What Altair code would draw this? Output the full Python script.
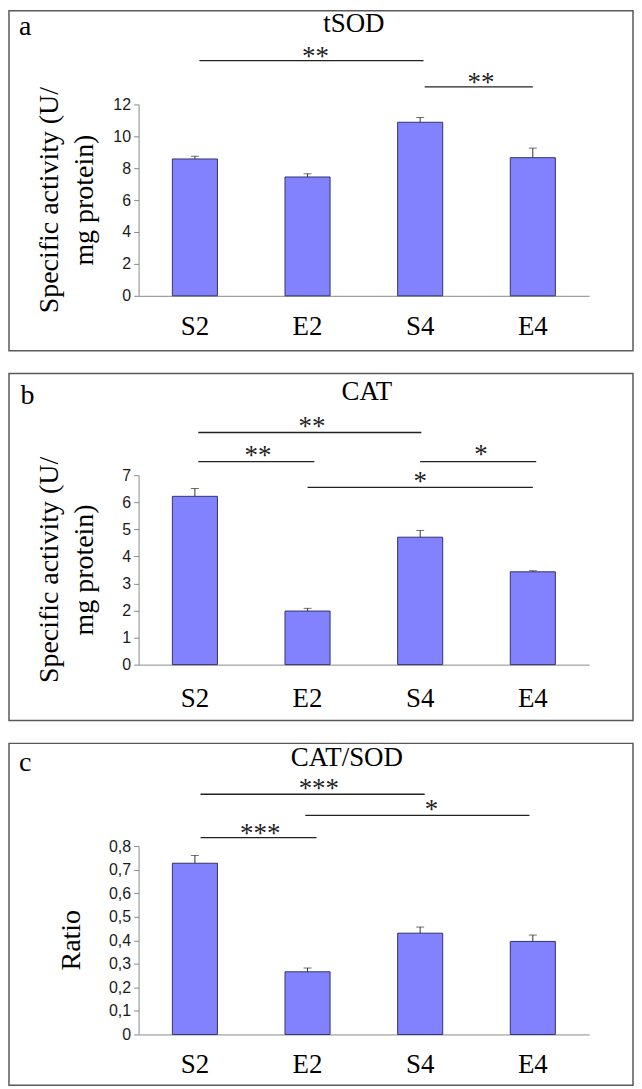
import altair as alt
import pandas as pd

groups = ["S2", "E2", "S4", "E4"]

sod_values = [8.58, 7.45, 10.88, 8.66]
sod_err = [0.17, 0.20, 0.30, 0.60]
cat_values = [6.22, 1.98, 4.71, 3.43]
cat_err = [0.29, 0.10, 0.25, 0.04]
ratio_values = [0.727, 0.266, 0.430, 0.395]
ratio_err = [0.033, 0.016, 0.026, 0.027]

# significance brackets (x in group units: 0.5 = centre of S2, 1.5 = E2, ...)
sod_sig_start = [0.54, 2.54]
sod_sig_end = [2.53, 3.50]
sod_sig_height = [14.75, 13.1]
sod_sig_label = ["**", "**"]
sod_sig_label_x = [1.57, 3.04]
sod_sig_label_y = [15.2, 13.6]

cat_sig_start = [0.53, 0.53, 2.50, 1.50]
cat_sig_end = [2.51, 1.56, 3.53, 3.50]
cat_sig_height = [8.58, 7.5, 7.5, 6.55]
cat_sig_label = ["**", "**", "*", "*"]
cat_sig_label_x = [1.54, 1.06, 3.04, 2.50]
cat_sig_label_y = [8.93, 7.86, 7.9, 6.88]

ratio_sig_start = [0.55, 1.48, 0.55]
ratio_sig_end = [2.54, 3.47, 1.58]
ratio_sig_height = [1.02, 0.93, 0.836]
ratio_sig_label = ["***", "*", "***"]
ratio_sig_label_x = [1.60, 2.60, 1.08]
ratio_sig_label_y = [1.058, 0.969, 0.87]

sod_ticks = [0, 2, 4, 6, 8, 10, 12]
cat_ticks = [0, 1, 2, 3, 4, 5, 6, 7]
ratio_ticks = [0, 0.1, 0.2, 0.3, 0.4, 0.5, 0.6, 0.7, 0.8]

SERIF = "Liberation Serif"
SANS = "Liberation Sans"
W = 452


def panel(letter, title, values, errs, ymax, yticks, ytitle, ytitle_x,
          sig_start, sig_end, sig_h, sig_lab, sig_lx, sig_ly,
          H, box_top, box_bottom, letter_xy, title_xy, label_pad, label_expr=None):
    df = pd.DataFrame({"group": groups, "value": values,
                       "top": [v + e for v, e in zip(values, errs)]})
    yscale = alt.Scale(domain=[0, ymax], nice=False, zero=True)
    xband = alt.Scale(paddingInner=0.6, paddingOuter=0.3)
    axis_kw = dict(values=yticks, title=None, grid=False,
                   domainColor="#8a8a8a", tickColor="#8a8a8a", tickSize=5,
                   labelFont=SANS, labelFontSize=16, labelColor="#1a1a1a",
                   labelPadding=3)
    if label_expr:
        axis_kw["labelExpr"] = label_expr
    yaxis = alt.Axis(**axis_kw)
    bars = alt.Chart(df).mark_bar(color="#8282ff", stroke="#33336b",
                                  strokeWidth=1).encode(
        x=alt.X("group:N", sort=groups, scale=xband,
                axis=alt.Axis(title=None, labelAngle=0, ticks=False, tickSize=0,
                              domainColor="#8a8a8a", labelFont=SERIF,
                              labelFontSize=27, labelColor="black",
                              labelBaseline="alphabetic", labelPadding=label_pad)),
        y=alt.Y("value:Q", scale=yscale, axis=yaxis),
    )
    err = alt.Chart(df).mark_rule(color="#333333", strokeWidth=1).encode(
        x=alt.X("group:N", sort=groups, scale=xband),
        y=alt.Y("value:Q", scale=yscale, axis=yaxis),
        y2="top:Q",
    )
    cap = alt.Chart(df).mark_tick(orient="horizontal", size=8, thickness=1,
                                  color="#333333").encode(
        x=alt.X("group:N", sort=groups, scale=xband),
        y=alt.Y("top:Q", scale=yscale, axis=yaxis),
    )

    one = pd.DataFrame({"t": [title], "l": [letter], "yt": [ytitle]})
    box = alt.Chart(one).mark_rect(fillOpacity=0, stroke="#5a5a5a",
                                   strokeWidth=1.5).encode(
        x=alt.value(-130), x2=alt.value(W + 44),
        y=alt.value(box_top), y2=alt.value(H + box_bottom))
    let = alt.Chart(one).mark_text(font=SERIF, fontSize=28, align="left",
                                   baseline="alphabetic", color="black").encode(
        x=alt.value(letter_xy[0]), y=alt.value(letter_xy[1]), text="l:N")
    ttl = alt.Chart(one).mark_text(font=SERIF, fontSize=27, align="center",
                                   baseline="alphabetic", color="black").encode(
        x=alt.value(title_xy[0]), y=alt.value(title_xy[1]), text="t:N")
    ytl = alt.Chart(one).mark_text(font=SERIF, fontSize=28, align="center",
                                   baseline="middle", angle=270, lineHeight=35,
                                   lineBreak="|", color="black").encode(
        x=alt.value(ytitle_x), y=alt.value(H / 2), text="yt:N")

    xq = alt.Scale(domain=[0, 4], nice=False, zero=False)
    sig = pd.DataFrame({"s": sig_start, "e": sig_end, "h": sig_h,
                        "lab": sig_lab, "lx": sig_lx, "ly": sig_ly})
    rules = alt.Chart(sig).mark_rule(color="#222222", strokeWidth=1.3).encode(
        x=alt.X("s:Q", scale=xq, axis=None), x2="e:Q",
        y=alt.Y("h:Q", scale=yscale, axis=yaxis))
    stars = alt.Chart(sig).mark_text(font=SERIF, fontSize=27, align="center",
                                     baseline="alphabetic", dy=12,
                                     color="#222222").encode(
        x=alt.X("lx:Q", scale=xq, axis=None),
        y=alt.Y("ly:Q", scale=yscale, axis=yaxis),
        text="lab:N")

    return alt.layer(
        alt.layer(bars, err, cap),
        alt.layer(box, let, ttl, ytl, rules, stars),
    ).resolve_scale(x="independent").properties(width=W, height=H)


pa = panel("a", "tSOD", sod_values, sod_err, 12, sod_ticks,
           "Specific activity (U/|mg protein)", -89,
           sod_sig_start, sod_sig_end, sod_sig_height, sod_sig_label,
           sod_sig_label_x, sod_sig_label_y,
           H=192, box_top=-94, box_bottom=55, letter_xy=(-120, -70),
           title_xy=(216, -73), label_pad=39)

pb = panel("b", "CAT", cat_values, cat_err, 7, cat_ticks,
           "Specific activity (U/|mg protein)", -89,
           cat_sig_start, cat_sig_end, cat_sig_height, cat_sig_label,
           cat_sig_label_x, cat_sig_label_y,
           H=190, box_top=-102, box_bottom=56, letter_xy=(-118.5, -71),
           title_xy=(229, -75), label_pad=42)

pc = panel("c", "CAT/SOD", ratio_values, ratio_err, 0.8, ratio_ticks,
           "Ratio", -67,
           ratio_sig_start, ratio_sig_end, ratio_sig_height, ratio_sig_label,
           ratio_sig_label_x, ratio_sig_label_y,
           H=189, box_top=-103, box_bottom=51, letter_xy=(-120, -75),
           title_xy=(209, -80), label_pad=38,
           label_expr="datum.value == 0 ? '0' : replace(format(datum.value, '.1f'), '.', ',')")

chart = alt.vconcat(pa, pb, pc, spacing=21, padding=0).configure_view(stroke=None)

chart.save("out.html", embed_options={"renderer": "svg", "actions": False})
